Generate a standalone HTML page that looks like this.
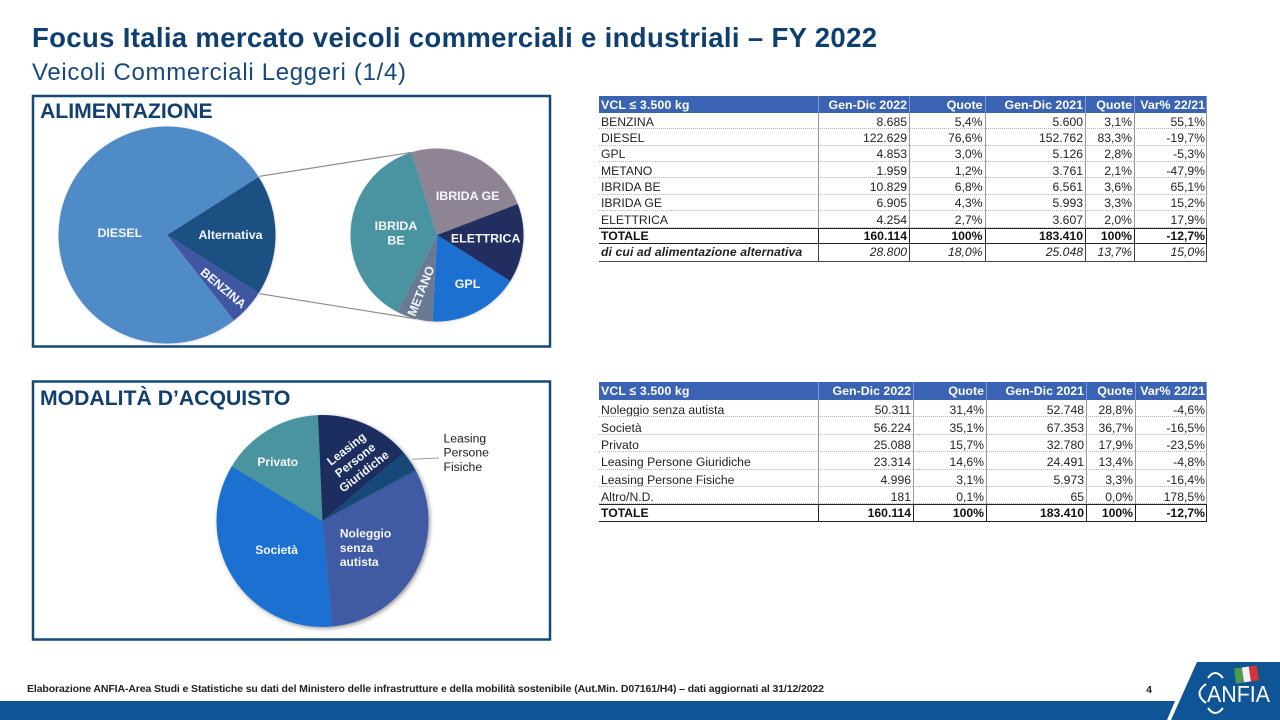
<!DOCTYPE html>
<html lang="it">
<head>
<meta charset="utf-8">
<title>Focus Italia mercato veicoli commerciali e industriali – FY 2022</title>
<style>
html,body{margin:0;padding:0;background:#fff;}
body{width:1280px;height:720px;overflow:hidden;position:relative;font-family:"Liberation Sans",Arial,sans-serif;}
#page-svg{position:absolute;left:0;top:0;}
.data-table{position:absolute;left:599px;border-collapse:separate;border-spacing:0;table-layout:fixed;width:608px;font-size:12.2px;color:#222;}
.data-table th{background:#3a63b4;color:#fff;font-weight:bold;font-size:12.4px;text-align:right;padding:0 2px 0 1px;border-left:1px solid #7f9ad0;box-sizing:border-box;white-space:nowrap;overflow:hidden;}
.data-table th:first-child{text-align:left;border-left:0;letter-spacing:.1px;padding-left:2px;}
.data-table td{text-align:right;padding:2px 2px 0 1px;line-height:12px;border-left:1px solid #9a9a9a;border-bottom:1px dotted #b5b5b5;box-sizing:border-box;white-space:nowrap;overflow:hidden;}
.data-table td:first-child{text-align:left;border-left:0;padding-left:2px;}
.data-table td:last-child{border-right:1px solid #9a9a9a;padding-right:1px;}
.data-table th:last-child{border-right:1px solid #7f9ad0;padding-right:1px;}
.t1 th{height:17px;}.t1 td{height:16.37px;}
.t2 th{height:18px;}.t2 td{height:17.4px;padding-top:4px;}
.data-table tr.total td{font-weight:bold;color:#111;padding-top:0;border-top:1.5px solid #222;border-bottom:1.5px solid #222;border-left-color:#222;}
.data-table tr.total td:last-child{border-right-color:#222;}
.data-table tr.total td:first-child{border-left:0;}
.data-table tr.alt td{height:18px;padding-top:0;font-style:italic;border-bottom:1px solid #444;border-left-color:#444;}
.data-table tr.alt td:first-child{font-weight:bold;border-left:0;letter-spacing:.1px;}
.data-table tr.alt td:last-child{border-right-color:#444;}
</style>
</head>
<body>

<svg id="page-svg" width="1280" height="720" viewBox="0 0 1280 720" xmlns="http://www.w3.org/2000/svg">
  <defs>
    <filter id="pie-shadow" x="-15%" y="-15%" width="130%" height="130%">
      <feDropShadow dx="1.5" dy="1.5" stdDeviation="2" flood-color="#000" flood-opacity="0.4"/>
    </filter>
    <filter id="pie-shadow-light" x="-15%" y="-15%" width="130%" height="130%">
      <feDropShadow dx="0.5" dy="0.5" stdDeviation="1.2" flood-color="#000" flood-opacity="0.18"/>
    </filter>
  </defs>

  <text x="32" y="47" textLength="845" lengthAdjust="spacing" font-family="'Liberation Sans',sans-serif" font-weight="bold" font-size="27.500" fill="#0f3f6e">Focus Italia mercato veicoli commerciali e industriali – FY 2022</text>
  <text x="32" y="80" textLength="374" lengthAdjust="spacing" font-family="'Liberation Sans',sans-serif" font-size="24" fill="#17497a">Veicoli Commerciali Leggeri (1/4)</text>

  <rect x="33" y="96" width="517" height="250.500" fill="none" stroke="#144a78" stroke-width="2.5"/>
  <text x="40" y="118" font-family="'Liberation Sans',sans-serif" font-weight="bold" font-size="21.200" fill="#12406e">ALIMENTAZIONE</text>

  <rect x="33" y="381.500" width="517" height="258" fill="none" stroke="#144a78" stroke-width="2.5"/>
  <text x="40" y="405" font-family="'Liberation Sans',sans-serif" font-weight="bold" font-size="21.200" fill="#12406e">MODALITÀ D’ACQUISTO</text>

  <g id="chart-main"></g>
  <g id="chart-alt"></g>
  <g id="chart-connectors"></g>
  <g id="chart-purchase"></g>

  <text x="27" y="692" textLength="797" lengthAdjust="spacing" font-family="'Liberation Sans',sans-serif" font-weight="bold" font-size="10.500" fill="#222">Elaborazione ANFIA-Area Studi e Statistiche su dati del Ministero delle infrastrutture e della mobilità sostenibile (Aut.Min. D07161/H4) – dati aggiornati al 31/12/2022</text>
  <text x="1149" y="693" text-anchor="middle" font-family="'Liberation Sans',sans-serif" font-weight="bold" font-size="10.500" fill="#222">4</text>

  <polygon points="0,701 1175,701 1167,720 0,720" fill="#0f5596"/>
  <g>
    <polygon points="1197,662 1280,662 1280,720 1171,720" fill="#0f5596"/>
    <g transform="rotate(-8 1246 675)">
      <rect x="1235" y="667" width="8" height="15" fill="#4c9a4a"/>
      <rect x="1243" y="667" width="7" height="15" fill="#f2f2f2"/>
      <rect x="1250" y="667" width="8" height="15" fill="#d2343a"/>
    </g>
    <path d="M1206 684 Q1193 693.500 1206 703" fill="none" stroke="#fff" stroke-width="2"/>
    <path d="M1208 678 Q1215 668 1223 678" fill="none" stroke="#fff" stroke-width="2"/>
    <path d="M1208 708 Q1215 718 1223 708" fill="none" stroke="#fff" stroke-width="2"/>
    <text x="1207" y="702" textLength="63" lengthAdjust="spacingAndGlyphs" font-family="'Liberation Sans',sans-serif" font-size="23.500" fill="#fff">ANFIA</text>
  </g>
</svg>

<table class="data-table t1" style="top:96px">
<colgroup><col style="width:219px"><col style="width:91px"><col style="width:75.5px"><col style="width:100.5px"><col style="width:49px"><col style="width:73px"></colgroup>
<tr><th>VCL ≤ 3.500 kg</th><th>Gen-Dic 2022</th><th>Quote</th><th>Gen-Dic 2021</th><th>Quote</th><th>Var% 22/21</th></tr>
<tr><td>BENZINA</td><td>8.685</td><td>5,4%</td><td>5.600</td><td>3,1%</td><td>55,1%</td></tr>
<tr><td>DIESEL</td><td>122.629</td><td>76,6%</td><td>152.762</td><td>83,3%</td><td>-19,7%</td></tr>
<tr><td>GPL</td><td>4.853</td><td>3,0%</td><td>5.126</td><td>2,8%</td><td>-5,3%</td></tr>
<tr><td>METANO</td><td>1.959</td><td>1,2%</td><td>3.761</td><td>2,1%</td><td>-47,9%</td></tr>
<tr><td>IBRIDA BE</td><td>10.829</td><td>6,8%</td><td>6.561</td><td>3,6%</td><td>65,1%</td></tr>
<tr><td>IBRIDA GE</td><td>6.905</td><td>4,3%</td><td>5.993</td><td>3,3%</td><td>15,2%</td></tr>
<tr><td>ELETTRICA</td><td>4.254</td><td>2,7%</td><td>3.607</td><td>2,0%</td><td>17,9%</td></tr>
<tr class="total"><td>TOTALE</td><td>160.114</td><td>100%</td><td>183.410</td><td>100%</td><td>-12,7%</td></tr>
<tr class="alt"><td>di cui ad alimentazione alternativa</td><td>28.800</td><td>18,0%</td><td>25.048</td><td>13,7%</td><td>15,0%</td></tr>
</table>

<table class="data-table t2" style="top:382px">
<colgroup><col style="width:219px"><col style="width:95px"><col style="width:73px"><col style="width:100px"><col style="width:49px"><col style="width:72px"></colgroup>
<tr><th>VCL ≤ 3.500 kg</th><th>Gen-Dic 2022</th><th>Quote</th><th>Gen-Dic 2021</th><th>Quote</th><th>Var% 22/21</th></tr>
<tr><td>Noleggio senza autista</td><td>50.311</td><td>31,4%</td><td>52.748</td><td>28,8%</td><td>-4,6%</td></tr>
<tr><td>Società</td><td>56.224</td><td>35,1%</td><td>67.353</td><td>36,7%</td><td>-16,5%</td></tr>
<tr><td>Privato</td><td>25.088</td><td>15,7%</td><td>32.780</td><td>17,9%</td><td>-23,5%</td></tr>
<tr><td>Leasing Persone Giuridiche</td><td>23.314</td><td>14,6%</td><td>24.491</td><td>13,4%</td><td>-4,8%</td></tr>
<tr><td>Leasing Persone Fisiche</td><td>4.996</td><td>3,1%</td><td>5.973</td><td>3,3%</td><td>-16,4%</td></tr>
<tr><td>Altro/N.D.</td><td>181</td><td>0,1%</td><td>65</td><td>0,0%</td><td>178,5%</td></tr>
<tr class="total"><td>TOTALE</td><td>160.114</td><td>100%</td><td>183.410</td><td>100%</td><td>-12,7%</td></tr>
</table>

<script>
const mainCategories = ['Alternativa', 'BENZINA', 'DIESEL'];
const mainValues = [28800, 8685, 122629];
const altCategories = ['IBRIDA GE', 'ELETTRICA', 'GPL', 'METANO', 'IBRIDA BE'];
const altValues = [6905, 4254, 4853, 1959, 10829];
const purchaseCategories = ['Noleggio senza autista', 'Società', 'Privato', 'Leasing Persone Giuridiche', 'Leasing Persone Fisiche', 'Altro/N.D.'];
const purchaseValues = [50311, 56224, 25088, 23314, 4996, 181];

const SVG_NS = 'http://www.w3.org/2000/svg';
const FONT = "'Liberation Sans',sans-serif";

function slug(s) {
  return s.toLowerCase().replace(/à/g, 'a').replace(/[^a-z0-9]+/g, '-').replace(/^-|-$/g, '');
}
function polar(cfg, deg, frac) {
  const a = deg * Math.PI / 180;
  return [cfg.cx + cfg.r * frac * Math.sin(a), cfg.cy - cfg.r * frac * Math.cos(a)];
}
function angleScale(values) {
  const total = values.reduce((s, v) => s + v, 0);
  return v => v / total * 360;
}
function slicePath(cfg, a0, a1) {
  const p0 = polar(cfg, a0, 1);
  const p1 = polar(cfg, a1, 1);
  const large = a1 - a0 > 180 ? 1 : 0;
  return 'M' + cfg.cx + ' ' + cfg.cy + 'L' + p0[0] + ' ' + p0[1] + 'A' + cfg.r + ' ' + cfg.r + ' 0 ' + large + ' 1 ' + p1[0] + ' ' + p1[1] + 'Z';
}
function drawLabel(group, name, lines, x, y, style, size) {
  const lineGap = style.lineGap || 14.3;
  const label = document.createElementNS(SVG_NS, 'text');
  
  
  label.setAttribute('font-family', FONT);
  label.setAttribute('font-weight', style.weight || 'bold');
  label.setAttribute('font-size', size || style.size || 12);
  label.setAttribute('fill', style.fill || '#f4f7fb');
  label.setAttribute('text-anchor', style.anchor || 'middle');
  if (style.rotate) label.setAttribute('transform', 'rotate(' + style.rotate + ' ' + x + ' ' + y + ')');
  const xPos = style.anchor === 'start' ? x - (style.halfWidth || 0) : x;
  const top = y - (lines.length - 1) * lineGap / 2 + 4.2;
  lines.forEach((line, i) => {
    const span = document.createElementNS(SVG_NS, 'tspan');
    span.setAttribute('x', xPos);
    span.setAttribute('y', top + i * lineGap);
    span.textContent = line;
    label.appendChild(span);
  });
  group.appendChild(label);
}
function drawPie(groupId, cfg, categories, values, colors, labels) {
  const group = document.getElementById(groupId);
  const toAngle = angleScale(values);
  const slices = document.createElementNS(SVG_NS, 'g');
  slices.setAttribute('filter', 'url(#' + cfg.shadow + ')');
  
  
  group.appendChild(slices);
  let angle = cfg.start(toAngle);
  const spans = [];
  categories.forEach((cat, i) => {
    const a1 = angle + toAngle(values[i]);
    const path = document.createElementNS(SVG_NS, 'path');
    path.setAttribute('d', slicePath(cfg, angle, a1));
    path.setAttribute('fill', colors[i]);
    
    
    slices.appendChild(path);
    spans.push([angle, a1]);
    angle = a1;
  });
  categories.forEach((cat, i) => {
    const lab = labels[i];
    if (!lab) return;
    const mid = (spans[i][0] + spans[i][1]) / 2;
    const p = polar(cfg, mid, 0.6);
    drawLabel(group, slug(cat), lab.lines, p[0] + lab.dx, p[1] + lab.dy, lab, cfg.labelSize);
  });
  return spans;
}

const mainCfg = { cx: 167, cy: 235, r: 108.5, shadow: 'pie-shadow-light', labelSize: 12.4, start: toAngle => 90 - toAngle(mainValues[0]) / 2 };
const mainSpans = drawPie('chart-main', mainCfg, mainCategories, mainValues,
  ['#1f5082', '#3f57a3', '#4f8bc6'],
  [
    { lines: ['Alternativa'], dx: -1.6, dy: 0 },
    { lines: ['BENZINA'], dx: 8, dy: 9.4, rotate: 40 },
    { lines: ['DIESEL'], dx: 17, dy: 9 }
  ]);

const altCfg = { cx: 437, cy: 235, r: 86.5, shadow: 'pie-shadow-light', labelSize: 12.4, start: () => -17.3 };
drawPie('chart-alt', altCfg, altCategories, altValues,
  ['#8f8494', '#202f5e', '#1a6fd0', '#6b7a95', '#4a94a0'],
  [
    { lines: ['IBRIDA GE'], dx: 8, dy: 7.7 },
    { lines: ['ELETTRICA'], dx: -3, dy: -2 },
    { lines: ['GPL'], dx: 6.6, dy: 3 },
    { lines: ['METANO'], dx: -2.5, dy: 6, rotate: -68 },
    { lines: ['IBRIDA', 'BE'], dx: 10.7, dy: 2.6 }
  ]);

const connectors = document.getElementById('chart-connectors');
[[mainSpans[0][0], -17.3, 'connector-top'], [mainSpans[0][1], 193.9, 'connector-bottom']].forEach(c => {
  const from = polar(mainCfg, c[0], 1.01);
  const to = polar(altCfg, c[1], 1);
  const line = document.createElementNS(SVG_NS, 'line');
  line.setAttribute('x1', from[0]);
  line.setAttribute('y1', from[1]);
  line.setAttribute('x2', to[0]);
  line.setAttribute('y2', to[1]);
  line.setAttribute('stroke', '#8a8a8a');
  line.setAttribute('stroke-width', '1.2');
  
  
  connectors.appendChild(line);
});

const purchaseCfg = { cx: 322.5, cy: 521, r: 106, shadow: 'pie-shadow', labelSize: 12, start: () => 61.6 };
const purchaseSpans = drawPie('chart-purchase', purchaseCfg, purchaseCategories, purchaseValues,
  ['#3f5aa3', '#1c70d2', '#4a949f', '#1e2f5f', '#144a7a', '#144a7a'],
  [
    { lines: ['Noleggio', 'senza', 'autista'], dx: -12.7, dy: -3.3, anchor: 'start', halfWidth: 26 },
    { lines: ['Società'], dx: 8, dy: -5 },
    { lines: ['Privato'], dx: -12.3, dy: -4.7 },
    { lines: ['Leasing', 'Persone', 'Giuridiche'], dx: 7, dy: -2.7, rotate: -38 },
    null,
    null
  ]);

const purchaseGroup = document.getElementById('chart-purchase');
const lpfEdge = polar(purchaseCfg, (purchaseSpans[4][0] + purchaseSpans[4][1]) / 2, 1.03);
const leader = document.createElementNS(SVG_NS, 'line');
leader.setAttribute('x1', lpfEdge[0]);
leader.setAttribute('y1', lpfEdge[1]);
leader.setAttribute('x2', 439);
leader.setAttribute('y2', 458);
leader.setAttribute('stroke', '#9a9a9a');
leader.setAttribute('stroke-width', '1');


purchaseGroup.appendChild(leader);
drawLabel(purchaseGroup, 'leasing-persone-fisiche', ['Leasing', 'Persone', 'Fisiche'], 443.5, 452.5, { weight: 'normal', fill: '#1c1c1c', anchor: 'start', size: 12.2 });
</script>
</body>
</html>
